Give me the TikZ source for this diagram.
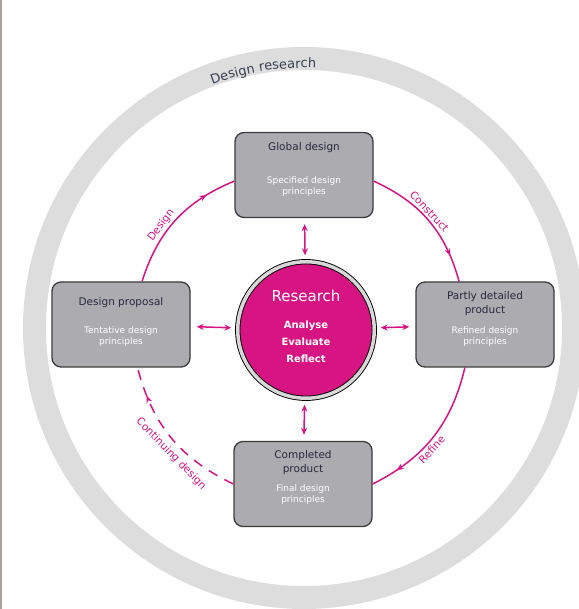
\documentclass[tikz,border=0pt]{standalone}
\usepackage{fontspec}
\setmainfont{DejaVu Sans}
\usetikzlibrary{arrows.meta,decorations.markings,decorations.text}

\definecolor{pinkline}{RGB}{214,20,130}
\definecolor{boxfill}{RGB}{172,172,176}
\definecolor{boxline}{RGB}{60,60,62}
\definecolor{titletext}{RGB}{40,40,62}
\definecolor{ringgray}{RGB}{221,221,221}
\definecolor{drtext}{RGB}{55,65,80}
\definecolor{resband}{RGB}{215,215,215}
\definecolor{framebrown}{RGB}{170,160,150}

\newcommand{\drfont}{\fontsize{13}{14}\selectfont\color{drtext}}

\tikzset{
  stage/.style={draw=boxline, line width=1.3pt, fill=boxfill, rounded corners=9pt,
    minimum width=138pt, minimum height=85pt, inner sep=0pt},
  stagetitle/.style={text=titletext, font=\fontsize{10.5}{14}\selectfont, align=center},
  stagesub/.style={text=white, font=\fontsize{9}{11}\selectfont, align=center},
  rescircle/.style={circle, draw=black, line width=0.9pt, double=resband, double distance=3.5pt,
    fill=pinkline, minimum size=136.5pt, inner sep=0pt},
  restext/.style={text=white, align=center, font=\bfseries\fontsize{10}{17}\selectfont},
  link/.style={draw=pinkline, line width=1.5pt,
    {Stealth[length=7pt,width=6pt]}-{Stealth[length=7pt,width=6pt]}, shorten >=6pt, shorten <=6pt},
  loopline/.style={draw=pinkline, line width=1.5pt,
    postaction={decorate, solid}, decoration={markings,
      mark=at position #1 with {\arrow{Stealth[length=7pt,width=6pt]}}}},
  looplabel/.style={text=pinkline, font=\fontsize{10.5}{12}\selectfont, sloped, inner sep=2pt}
}

\begin{document}
\begin{tikzpicture}[x=1pt,y=1pt]
\useasboundingbox (0,0) rectangle (578,609);
\draw[framebrown, line width=2pt] (1,0) -- (1,609);

% outer ring
\draw[ringgray, line width=23pt] (304,281) circle[radius=269.5];
\path[decorate, decoration={text along path, text align=center,
  text={|\drfont|Design research}}]
  (304,281) ++(125:260) arc[start angle=125, end angle=73, radius=260];

% stages
\node[stage] (glob) at (304,434) {};
\node[stage] (prop) at (121,284.5) {};
\node[stage] (part) at (485,284.5) {};
\node[stage] (comp) at (303,125) {};

\node[stagetitle] (globtitle) at (304,461) {Global design};
\node[stagesub] (globsub) at (304,422.5) {Specified design\\principles};
\node[stagetitle] (proptitle) at (121,306) {Design proposal};
\node[stagesub] (propsub) at (121,272) {Tentative design\\principles};
\node[stagetitle] (parttitle) at (485,305) {Partly detailed\\product};
\node[stagesub] (partsub) at (485,272) {Refined design\\principles};
\node[stagetitle] (comptitle) at (303,146.5) {Completed\\product};
\node[stagesub] (compsub) at (303,114.5) {Final design\\principles};

% research
\node[rescircle] (res) at (306,279) {};
\node[restext] (restitle) at (306,283) {{\mdseries\fontsize{15}{17}\selectfont Research}\\[10pt]Analyse\\Evaluate\\Reflect};

\draw[link] (res) -- (glob);
\draw[link] (res) -- (prop);
\draw[link] (res) -- (part);
\draw[link] (res) -- (comp);

% cycle
\draw[loopline=.78] (prop.64) to[bend left=25]
  node[looplabel, pos=.4, above] (lbldesign) {Design} (glob.185);
\draw[loopline=.8] (glob.-5) to[bend left=25]
  node[looplabel, pos=.45, above] (lblconstruct) {Construct} (part.121);
\draw[loopline=.82] (part.245) to[bend left=25]
  node[looplabel, pos=.57, below] (lblrefine) {Refine} (comp.east);
\draw[loopline=.81, dash pattern=on 10pt off 8pt] (comp.west) to[bend left=25]
  node[looplabel, pos=.42, below=3pt] (lblcontinue) {Continuing design} (prop.291);
\end{tikzpicture}
\end{document}
